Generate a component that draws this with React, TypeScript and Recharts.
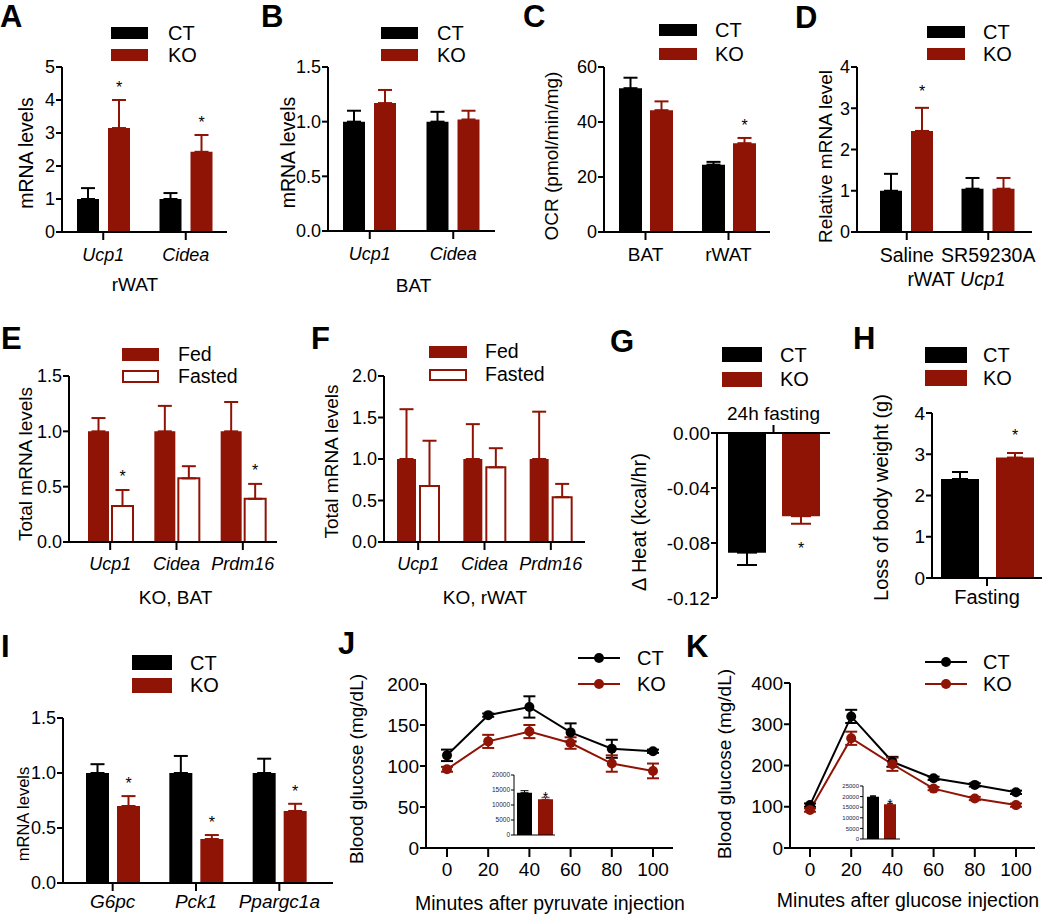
import React from 'react';
import { BarChart, Bar, LineChart, Line, XAxis, YAxis, ErrorBar, LabelList, Legend } from 'recharts';

const FONT = '"Liberation Sans", Arial, Helvetica, sans-serif';
const RED = '#8f1405';
const BLACK = '#000000';

// ---------- data ----------
const A_CATS = ['Ucp1', 'Cidea'];
const A_CT = [1.0, 1.0];
const A_CT_ERR = [0.33, 0.18];
const A_KO = [3.15, 2.43];
const A_KO_ERR = [0.85, 0.51];
const A_KO_STAR = [true, true];
const A_TICKS = [0, 1, 2, 3, 4, 5];

const B_CATS = ['Ucp1', 'Cidea'];
const B_CT = [1.0, 1.0];
const B_CT_ERR = [0.1, 0.09];
const B_KO = [1.17, 1.02];
const B_KO_ERR = [0.12, 0.08];
const B_TICKS = [0, 0.5, 1.0, 1.5];

const C_CATS = ['BAT', 'rWAT'];
const C_CT = [52.3, 24.5];
const C_CT_ERR = [3.8, 1.0];
const C_KO = [44.3, 32.3];
const C_KO_ERR = [3.2, 1.9];
const C_KO_STAR = [false, true];
const C_TICKS = [0, 20, 40, 60];

const D_CATS = ['Saline', 'SR59230A'];
const D_CT = [1.0, 1.05];
const D_CT_ERR = [0.41, 0.26];
const D_KO = [2.45, 1.05];
const D_KO_ERR = [0.56, 0.26];
const D_KO_STAR = [true, false];
const D_TICKS = [0, 1, 2, 3, 4];

const E_CATS = ['Ucp1', 'Cidea', 'Prdm16'];
const E_FED = [1.0, 1.0, 1.0];
const E_FED_ERR = [0.12, 0.23, 0.265];
const E_FASTED = [0.325, 0.575, 0.39];
const E_FASTED_ERR = [0.145, 0.11, 0.135];
const E_FASTED_STAR = [true, false, true];
const E_TICKS = [0, 0.5, 1.0, 1.5];

const F_CATS = ['Ucp1', 'Cidea', 'Prdm16'];
const F_FED = [1.0, 1.0, 1.0];
const F_FED_ERR = [0.6, 0.42, 0.57];
const F_FASTED = [0.675, 0.9, 0.54];
const F_FASTED_ERR = [0.545, 0.23, 0.16];
const F_TICKS = [0, 0.5, 1.0, 1.5, 2.0];

const G_CATS = ['24h fasting'];
const G_CT = [-0.087];
const G_CT_ERR = [0.009];
const G_KO = [-0.0605];
const G_KO_ERR = [0.0055];
const G_KO_STAR = [true];
const G_TICKS = [-0.12, -0.08, -0.04, 0];

const H_CATS = ['Fasting'];
const H_CT = [2.4];
const H_CT_ERR = [0.17];
const H_KO = [2.92];
const H_KO_ERR = [0.11];
const H_KO_STAR = [true];
const H_TICKS = [0, 1, 2, 3, 4];

const I_CATS = ['G6pc', 'Pck1', 'Ppargc1a'];
const I_CT = [1.0, 1.0, 1.0];
const I_CT_ERR = [0.08, 0.155, 0.13];
const I_KO = [0.7, 0.4, 0.655];
const I_KO_ERR = [0.09, 0.036, 0.065];
const I_KO_STAR = [true, true, true];
const I_TICKS = [0, 0.5, 1.0, 1.5];

const J_MIN = [0, 20, 40, 60, 80, 100];
const J_CT = [113, 162, 172, 141, 121, 118];
const J_CT_ERR = [7, 2, 13, 11, 11, 2];
const J_KO = [96, 130, 142, 128, 103, 94];
const J_KO_ERR = [3, 8, 8, 7, 10, 9];
const J_YTICKS = [0, 50, 100, 150, 200];
const J_AUC_CT = [14100];
const J_AUC_CT_ERR = [670];
const J_AUC_KO = [11900];
const J_AUC_KO_ERR = [670];
const J_AUC_STAR = [true];
const J_AUC_TICKS = [0, 5000, 10000, 15000, 20000];

const K_MIN = [0, 20, 40, 60, 80, 100];
const K_CT = [104, 319, 209, 169, 153, 135];
const K_CT_ERR = [4, 16, 12, 4, 4, 4];
const K_KO = [92, 266, 203, 144, 120, 104];
const K_KO_ERR = [4, 16, 16, 4, 4, 4];
const K_YTICKS = [0, 100, 200, 300, 400];
const K_AUC_CT = [19980];
const K_AUC_CT_ERR = [400];
const K_AUC_KO = [16400];
const K_AUC_KO_ERR = [400];
const K_AUC_STAR = [true];
const K_AUC_TICKS = [0, 5000, 10000, 15000, 20000, 25000];

const MIN_TICKS = [0, 20, 40, 60, 80, 100];

// ---------- helpers ----------
type Series = { name: string; values: number[]; errs: number[]; color: string; hollow?: boolean; stars?: boolean[] };
type LegendCfg = { x: number; rows: number[]; w: number; h: number; tx: number; font: number; line?: boolean };
type Title = { node: React.ReactNode; x: number; y: number; font: number };

function LegendOverlay({ cfg, series, bl, bt, bw, bh }: { cfg: LegendCfg; series: Series[]; bl: number; bt: number; bw: number; bh: number }) {
  return (
    <div style={{ position: 'relative', width: bw, height: bh, pointerEvents: 'none', fontFamily: FONT }}>
      {series.map((s, i) => {
        const cy = cfg.rows[i] - bt;
        const left = cfg.x - bl;
        return (
          <React.Fragment key={s.name}>
            {cfg.line ? (
              <svg style={{ position: 'absolute', left, top: cy - 7, overflow: 'visible' }} width={cfg.w} height={14}>
                <line x1={0} y1={7} x2={cfg.w} y2={7} stroke={s.color} strokeWidth={2} />
                <circle cx={cfg.w / 2} cy={7} r={5} fill={s.color} />
              </svg>
            ) : (
              <div
                style={{
                  position: 'absolute', left, top: cy - cfg.h / 2, width: cfg.w, height: cfg.h, boxSizing: 'border-box',
                  background: s.hollow ? '#fff' : s.color, border: s.hollow ? `2px solid ${s.color}` : 'none',
                }}
              />
            )}
            <div style={{ position: 'absolute', left: cfg.tx - bl, top: cy - cfg.font * 0.49, fontSize: cfg.font, lineHeight: 1, color: '#000', whiteSpace: 'nowrap' }}>
              {s.name}
            </div>
          </React.Fragment>
        );
      })}
    </div>
  );
}

const starRenderer = (s: Series, gap: number, font: number) => (props: any) => {
  let i = props.index;
  if (i === undefined) i = s.values.indexOf(props.value);
  if (!s.stars || !s.stars[i]) return null;
  const vb = props.viewBox || props;
  const v = s.values[i];
  const e = s.errs[i];
  const k = Math.abs(vb.height / v);
  const topY = Math.min(vb.y, vb.y + vb.height);
  const botY = Math.max(vb.y, vb.y + vb.height);
  const cx = vb.x + vb.width / 2;
  const cy = v >= 0 ? topY - e * k - gap : botY + e * k + gap;
  return (
    <text key={`star${i}`} x={cx} y={cy + font * 0.57} textAnchor="middle" fontSize={font} fill="#000">*</text>
  );
};

const yTitleLabel = (t: Title | undefined, bl: number, bt: number) =>
  t
    ? () => (
        <text transform={`translate(${t.x - bl},${t.y - bt}) rotate(-90)`} textAnchor="middle" fontSize={t.font} fill="#000">
          {t.node}
        </text>
      )
    : undefined;

const xTitleLabel = (t: Title | undefined, bl: number, bt: number) =>
  t
    ? () => (
        <text x={t.x - bl} y={t.y - bt + t.font * 0.716} textAnchor="middle" fontSize={t.font} fill="#000">
          {t.node}
        </text>
      )
    : undefined;

type BarPanelProps = {
  box: [number, number, number, number];
  plot: [number, number, number, number];
  cats: string[];
  series: Series[];
  domain: [number, number];
  ticks: number[];
  decimals: number;
  barSize: number;
  barGap: number;
  pad?: [number, number];
  italic?: boolean;
  tickFont: number;
  xTickFont?: number;
  xTickSize?: number;
  xTickMargin?: number;
  yTickSize?: number;
  yTickMargin?: number;
  yTitle?: Title;
  xTitle?: Title;
  legend?: LegendCfg;
  top?: boolean;
  starGap?: number;
  starFont?: number;
  cap?: number;
  axisW?: number;
  tickColor?: string;
  hideXTicks?: boolean;
};

function BarPanel(p: BarPanelProps) {
  const [bl, bt, bw, bh] = p.box;
  const [x0, y0, x1, y1] = p.plot;
  const aw = p.axisW ?? 2;
  const tickColor = p.tickColor ?? '#000';
  const rows = p.cats.map((c, i) => {
    const r: Record<string, unknown> = { cat: c };
    p.series.forEach((s, j) => {
      const v = s.values[i];
      const e = s.errs[i];
      r[`v${j}`] = v;
      r[`e${j}`] = v >= 0 ? [0, e] : [e, 0];
    });
    return r;
  });
  const xH = p.top ? y0 - bt : bt + bh - y1;
  const margin = p.top
    ? { top: 0, right: bl + bw - x1, bottom: bt + bh - y1, left: 0 }
    : { top: y0 - bt, right: bl + bw - x1, bottom: 0, left: 0 };
  const line = { stroke: '#000', strokeWidth: aw };
  return (
    <div style={{ position: 'absolute', left: bl, top: bt, width: bw, height: bh }}>
      <BarChart width={bw} height={bh} data={rows} margin={margin} barSize={p.barSize} barGap={p.barGap}>
        <XAxis
          dataKey="cat"
          orientation={p.top ? 'top' : 'bottom'}
          height={xH}
          padding={{ left: p.pad?.[0] ?? 0, right: p.pad?.[1] ?? 0 }}
          axisLine={line}
          tickLine={p.hideXTicks ? false : line}
          tickSize={p.xTickSize ?? 8}
          tickMargin={p.xTickMargin ?? 8}
          tick={p.hideXTicks ? false : { fontSize: p.xTickFont ?? p.tickFont, fill: tickColor, fontStyle: p.italic ? 'italic' : 'normal' }}
          interval={0}
          label={xTitleLabel(p.xTitle, bl, bt)}
        />
        <YAxis
          width={x0 - bl}
          domain={p.domain}
          ticks={p.ticks}
          interval={0}
          allowDataOverflow
          tickFormatter={(v: number) => v.toFixed(p.decimals)}
          axisLine={line}
          tickLine={line}
          tickSize={p.yTickSize ?? 6}
          tickMargin={p.yTickMargin ?? 1}
          tick={{ fontSize: p.tickFont, fill: tickColor }}
          label={yTitleLabel(p.yTitle, bl, bt)}
        />
        {p.legend && (
          <Legend
            layout="vertical"
            align="center"
            verticalAlign="middle"
            wrapperStyle={{ left: 0, top: 0, width: bw, height: bh, pointerEvents: 'none' }}
            content={() => <LegendOverlay cfg={p.legend as LegendCfg} series={p.series} bl={bl} bt={bt} bw={bw} bh={bh} />}
          />
        )}
        {p.series.map((s, j) => (
          <Bar
            key={s.name}
            dataKey={`v${j}`}
            name={s.name}
            fill={s.hollow ? '#fff' : s.color}
            stroke={s.hollow ? s.color : 'none'}
            strokeWidth={s.hollow ? 2 : 0}
            isAnimationActive={false}
          >
            <ErrorBar dataKey={`e${j}`} width={p.cap ?? 7} stroke={s.color} strokeWidth={aw} direction="y" />
            {s.stars && <LabelList dataKey={`v${j}`} content={starRenderer(s, p.starGap ?? 16, p.starFont ?? 16)} />}
          </Bar>
        ))}
      </BarChart>
    </div>
  );
}

type LinePanelProps = {
  box: [number, number, number, number];
  plot: [number, number, number, number];
  xs: number[];
  series: Series[];
  xTicks: number[];
  yDomain: [number, number];
  yTicks: number[];
  pad: [number, number];
  tickFont: number;
  yTitle: Title;
  xTitle: Title;
  legend: LegendCfg;
};

function LinePanel(p: LinePanelProps) {
  const [bl, bt, bw, bh] = p.box;
  const [x0, y0, x1, y1] = p.plot;
  const rows = p.xs.map((t, i) => {
    const r: Record<string, number> = { t };
    p.series.forEach((s, j) => {
      r[`v${j}`] = s.values[i];
      r[`e${j}`] = s.errs[i];
    });
    return r;
  });
  const line = { stroke: '#000', strokeWidth: 2 };
  return (
    <div style={{ position: 'absolute', left: bl, top: bt, width: bw, height: bh }}>
      <LineChart width={bw} height={bh} data={rows} margin={{ top: y0 - bt, right: bl + bw - x1, bottom: 0, left: 0 }}>
        <XAxis
          type="number"
          dataKey="t"
          domain={[p.xTicks[0], p.xTicks[p.xTicks.length - 1]]}
          ticks={p.xTicks}
          interval={0}
          height={bt + bh - y1}
          padding={{ left: p.pad[0], right: p.pad[1] }}
          axisLine={line}
          tickLine={line}
          tickSize={9}
          tickMargin={6}
          tick={{ fontSize: p.tickFont, fill: '#000' }}
          label={xTitleLabel(p.xTitle, bl, bt)}
        />
        <YAxis
          width={x0 - bl}
          domain={p.yDomain}
          ticks={p.yTicks}
          interval={0}
          allowDataOverflow
          axisLine={line}
          tickLine={line}
          tickSize={6}
          tickMargin={1}
          tick={{ fontSize: p.tickFont, fill: '#000' }}
          label={yTitleLabel(p.yTitle, bl, bt)}
        />
        <Legend
          layout="vertical"
          align="center"
          verticalAlign="middle"
          wrapperStyle={{ left: 0, top: 0, width: bw, height: bh, pointerEvents: 'none' }}
          content={() => <LegendOverlay cfg={p.legend} series={p.series} bl={bl} bt={bt} bw={bw} bh={bh} />}
        />
        {p.series.map((s, j) => (
          <Line
            key={s.name}
            dataKey={`v${j}`}
            name={s.name}
            stroke={s.color}
            strokeWidth={2}
            dot={{ r: 5, fill: s.color, stroke: s.color, strokeWidth: 0 }}
            isAnimationActive={false}
          >
            <ErrorBar dataKey={`e${j}`} width={6} stroke={s.color} strokeWidth={2} direction="y" />
          </Line>
        ))}
      </LineChart>
    </div>
  );
}

function Letter({ ch, x, y }: { ch: string; x: number; y: number }) {
  return (
    <div style={{ position: 'absolute', left: x, top: y, fontSize: 31, fontWeight: 'bold', lineHeight: 1, fontFamily: FONT, color: '#000' }}>
      {ch}
    </div>
  );
}

const ct = (values: number[], errs: number[], stars?: boolean[]): Series => ({ name: 'CT', values, errs, color: BLACK, stars });
const ko = (values: number[], errs: number[], stars?: boolean[]): Series => ({ name: 'KO', values, errs, color: RED, stars });

export default function App() {
  return (
    <div style={{ position: 'absolute', left: 0, top: 0, width: 1050, height: 915, background: '#fff', fontFamily: FONT, overflow: 'hidden' }}>
      {/* A */}
      <BarPanel
        box={[0, 0, 255, 300]} plot={[62, 67, 227, 232]}
        cats={A_CATS} italic series={[ct(A_CT, A_CT_ERR), ko(A_KO, A_KO_ERR, A_KO_STAR)]}
        domain={[0, 5]} ticks={A_TICKS} decimals={0} barSize={22} barGap={9} tickFont={18}
        yTitle={{ node: 'mRNA levels', x: 33, y: 153, font: 19.5 }}
        xTitle={{ node: 'rWAT', x: 135, y: 277, font: 19 }}
        legend={{ x: 111, rows: [33, 54.5], w: 37, h: 12, tx: 168, font: 20 }}
      />
      {/* B */}
      <BarPanel
        box={[255, 0, 255, 300]} plot={[328, 67, 495, 231]}
        cats={B_CATS} italic series={[ct(B_CT, B_CT_ERR), ko(B_KO, B_KO_ERR)]}
        domain={[0, 1.5]} ticks={B_TICKS} decimals={1} barSize={22} barGap={9} tickFont={18}
        yTitle={{ node: 'mRNA levels', x: 295, y: 152.5, font: 19.5 }}
        xTitle={{ node: 'BAT', x: 413.5, y: 278, font: 19 }}
        legend={{ x: 381, rows: [33, 54.5], w: 37, h: 12, tx: 437, font: 20 }}
      />
      {/* C */}
      <BarPanel
        box={[510, 0, 265, 300]} plot={[604, 67, 770, 232]}
        cats={C_CATS} series={[ct(C_CT, C_CT_ERR), ko(C_KO, C_KO_ERR, C_KO_STAR)]}
        domain={[0, 60]} ticks={C_TICKS} decimals={0} barSize={23} barGap={8} tickFont={18} xTickFont={19}
        yTitle={{ node: 'OCR (pmol/min/mg)', x: 558, y: 156, font: 19 }}
        legend={{ x: 659, rows: [29.5, 53.5], w: 38, h: 12, tx: 715, font: 20 }}
      />
      {/* D */}
      <BarPanel
        box={[775, 0, 275, 300]} plot={[857, 67, 1032, 232]} pad={[9, 3]}
        cats={D_CATS} series={[ct(D_CT, D_CT_ERR), ko(D_KO, D_KO_ERR, D_KO_STAR)]}
        domain={[0, 4]} ticks={D_TICKS} decimals={0} barSize={22} barGap={9} tickFont={18} xTickFont={19.5}
        starGap={20}
        yTitle={{ node: 'Relative mRNA level', x: 832, y: 156.5, font: 19 }}
        xTitle={{ node: <><tspan>{'rWAT '}</tspan><tspan fontStyle="italic">Ucp1</tspan></>, x: 956.5, y: 272, font: 19.5 }}
        legend={{ x: 927, rows: [31.5, 54], w: 38, h: 12, tx: 983, font: 20 }}
      />
      {/* E */}
      <BarPanel
        box={[0, 300, 285, 310]} plot={[69, 376, 277, 542]} pad={[8, 1]}
        cats={E_CATS} italic
        series={[
          { name: 'Fed', values: E_FED, errs: E_FED_ERR, color: RED },
          { name: 'Fasted', values: E_FASTED, errs: E_FASTED_ERR, color: RED, hollow: true, stars: E_FASTED_STAR },
        ]}
        domain={[0, 1.5]} ticks={E_TICKS} decimals={1} barSize={21} barGap={3} tickFont={18} xTickMargin={7}
        starGap={17}
        yTitle={{ node: 'Total mRNA levels', x: 32, y: 464, font: 19 }}
        xTitle={{ node: 'KO, BAT', x: 175.5, y: 590, font: 19 }}
        legend={{ x: 122, rows: [354.5, 376.5], w: 37, h: 13, tx: 178, font: 19.5 }}
      />
      {/* F */}
      <BarPanel
        box={[285, 300, 300, 310]} plot={[384, 376, 585, 542]} pad={[1, 1]}
        cats={F_CATS} italic
        series={[
          { name: 'Fed', values: F_FED, errs: F_FED_ERR, color: RED },
          { name: 'Fasted', values: F_FASTED, errs: F_FASTED_ERR, color: RED, hollow: true },
        ]}
        domain={[0, 2]} ticks={F_TICKS} decimals={1} barSize={19} barGap={4} tickFont={18} xTickMargin={7}
        yTitle={{ node: 'Total mRNA levels', x: 338, y: 461.5, font: 19 }}
        xTitle={{ node: 'KO, rWAT', x: 485, y: 590, font: 19 }}
        legend={{ x: 429, rows: [352, 374.5], w: 38, h: 12, tx: 485, font: 19.5 }}
      />
      {/* G */}
      <BarPanel
        box={[580, 300, 265, 310]} plot={[717, 433, 830, 598]} top
        cats={G_CATS} series={[ct(G_CT, G_CT_ERR), ko(G_KO, G_KO_ERR, G_KO_STAR)]}
        domain={[-0.12, 0]} ticks={G_TICKS} decimals={2} barSize={38} barGap={16} tickFont={19}
        xTickSize={8} xTickMargin={5} cap={10} starGap={21}
        yTitle={{ node: '\u0394 Heat (kcal/hr)', x: 646, y: 522, font: 20 }}
        legend={{ x: 722, rows: [354.5, 379], w: 40, h: 15, tx: 780, font: 20 }}
      />
      {/* H */}
      <BarPanel
        box={[845, 300, 205, 310]} plot={[932, 413, 1042, 578]}
        cats={H_CATS} series={[ct(H_CT, H_CT_ERR), ko(H_KO, H_KO_ERR, H_KO_STAR)]}
        domain={[0, 4]} ticks={H_TICKS} decimals={0} barSize={38} barGap={17} tickFont={19} xTickFont={20}
        xTickSize={8} xTickMargin={4} cap={8} starGap={21}
        yTitle={{ node: 'Loss of body weight (g)', x: 888, y: 497.5, font: 20 }}
        legend={{ x: 925, rows: [355, 378], w: 42, h: 16, tx: 983, font: 20 }}
      />
      {/* I */}
      <BarPanel
        box={[0, 610, 340, 305]} plot={[63, 718, 333, 883]} pad={[8, 12]}
        cats={I_CATS} italic series={[ct(I_CT, I_CT_ERR), ko(I_KO, I_KO_ERR, I_KO_STAR)]}
        domain={[0, 1.5]} ticks={I_TICKS} decimals={1} barSize={23} barGap={8} tickFont={18} xTickFont={19}
        xTickSize={8} xTickMargin={4} starGap={16}
        yTitle={{ node: 'mRNA levels', x: 29, y: 814, font: 16.5 }}
        legend={{ x: 132, rows: [662.5, 685], w: 40, h: 15, tx: 190, font: 20 }}
      />
      {/* J */}
      <LinePanel
        box={[335, 610, 355, 305]} plot={[426, 684, 673, 848]}
        xs={J_MIN} series={[ct(J_CT, J_CT_ERR), ko(J_KO, J_KO_ERR)]}
        xTicks={MIN_TICKS} yDomain={[0, 200]} yTicks={J_YTICKS} pad={[21, 20]} tickFont={19}
        yTitle={{ node: 'Blood glucose (mg/dL)', x: 363, y: 769, font: 19 }}
        xTitle={{ node: 'Minutes after pyruvate injection', x: 550, y: 896, font: 19.5 }}
        legend={{ x: 578, rows: [658, 684], w: 42, h: 10, tx: 637, font: 20, line: true }}
      />
      <BarPanel
        box={[484, 769, 74, 70]} plot={[514, 775, 555, 835]}
        cats={['AUC']} series={[ct(J_AUC_CT, J_AUC_CT_ERR), ko(J_AUC_KO, J_AUC_KO_ERR, J_AUC_STAR)]}
        domain={[0, 20000]} ticks={J_AUC_TICKS} decimals={0} barSize={15} barGap={6} tickFont={6.5}
        tickColor="#1c1c3c" axisW={1} yTickSize={3} yTickMargin={1} hideXTicks cap={4} starGap={3} starFont={14}
      />
      {/* K */}
      <LinePanel
        box={[690, 610, 360, 305]} plot={[790, 683, 1035, 848]}
        xs={K_MIN} series={[ct(K_CT, K_CT_ERR), ko(K_KO, K_KO_ERR)]}
        xTicks={MIN_TICKS} yDomain={[0, 400]} yTicks={K_YTICKS} pad={[20, 19]} tickFont={19}
        yTitle={{ node: 'Blood glucose (mg/dL)', x: 731, y: 764, font: 19 }}
        xTitle={{ node: 'Minutes after glucose injection', x: 908, y: 893, font: 19.5 }}
        legend={{ x: 925, rows: [662, 684], w: 42, h: 10, tx: 983, font: 20, line: true }}
      />
      <BarPanel
        box={[833, 780, 70, 63]} plot={[863, 786, 900, 839]}
        cats={['AUC']} series={[ct(K_AUC_CT, K_AUC_CT_ERR), ko(K_AUC_KO, K_AUC_KO_ERR, K_AUC_STAR)]}
        domain={[0, 25000]} ticks={K_AUC_TICKS} decimals={0} barSize={12} barGap={5} tickFont={6}
        tickColor="#1c1c3c" axisW={1} yTickSize={3} yTickMargin={1} hideXTicks cap={3} starGap={2} starFont={14}
      />

      <Letter ch="A" x={0} y={1} />
      <Letter ch="B" x={261} y={1} />
      <Letter ch="C" x={523} y={1} />
      <Letter ch="D" x={795} y={2} />
      <Letter ch="E" x={1} y={323} />
      <Letter ch="F" x={311} y={323} />
      <Letter ch="G" x={610} y={326} />
      <Letter ch="H" x={853} y={323} />
      <Letter ch="I" x={1} y={631} />
      <Letter ch="J" x={338} y={628} />
      <Letter ch="K" x={686} y={631} />
    </div>
  );
}
